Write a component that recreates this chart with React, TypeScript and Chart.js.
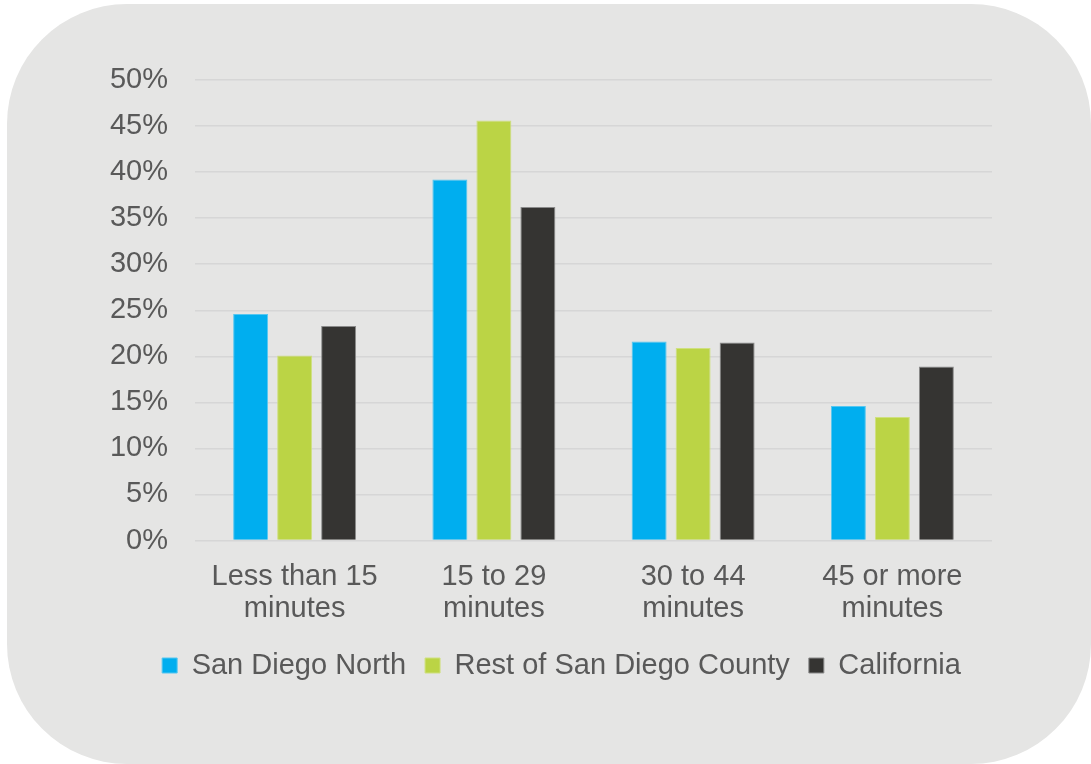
import React, { useEffect, useRef } from "react";
import { Chart, registerables } from "chart.js";

Chart.register(...registerables);

const categories: string[][] = [
  ["Less than 15", "minutes"],
  ["15 to 29", "minutes"],
  ["30 to 44", "minutes"],
  ["45 or more", "minutes"],
];
const seriesNames = ["San Diego North", "Rest of San Diego County", "California"];
const sanDiegoNorth = [24.6, 39.2, 21.6, 14.6];
const restOfCounty = [20.1, 45.6, 20.9, 13.4];
const california = [23.3, 36.2, 21.5, 18.9];
const fills = ["#00aeef", "#bbd445", "#353432"];
const borders = ["#55c6f0", "#cfe07f", "#8a8a8a"];

const FONT = "'Liberation Sans', Arial, sans-serif";
const TEXT = "#595959";

const legendShift = {
  id: "legendShift",
  afterLayout(chart: any) {
    const l = chart.legend;
    if (l) {
      l.left += 62;
      l.right += 62;
    }
  },
};

export default function App() {
  const ref = useRef<HTMLCanvasElement | null>(null);

  useEffect(() => {
    if (!ref.current) return;
    const values = [sanDiegoNorth, restOfCounty, california];
    const chart = new Chart(ref.current, {
      type: "bar",
      data: {
        labels: categories,
        datasets: values.map((v, i) => ({
          label: seriesNames[i],
          data: v,
          backgroundColor: fills[i],
          borderColor: borders[i],
          borderWidth: 1,
          categoryPercentage: 0.6625,
          barPercentage: 0.795,
        })),
      },
      plugins: [legendShift],
      options: {
        responsive: false,
        animation: false,
        layout: { padding: { left: 0, right: 99, top: 76, bottom: 74 } },
        plugins: {
          tooltip: { enabled: false },
          legend: {
            position: "bottom",
            labels: {
              color: TEXT,
              font: { family: FONT, size: 29 },
              boxWidth: 15,
              boxHeight: 15,
              padding: 19,
            },
          },
        },
        scales: {
          x: {
            afterFit: (s: any) => {
              s.height = 91.5;
            },
            grid: { display: false, drawTicks: false },
            border: { display: false },
            ticks: {
              color: TEXT,
              font: { family: FONT, size: 29, lineHeight: 1.1 },
              padding: 21,
              maxRotation: 0,
              autoSkip: false,
            },
          },
          y: {
            min: 0,
            max: 50,
            afterFit: (s: any) => {
              s.width = 188;
            },
            grid: { color: "#d6d6d6", lineWidth: 1.5, drawTicks: false },
            border: { display: false },
            ticks: {
              stepSize: 5,
              color: TEXT,
              font: { family: FONT, size: 29 },
              padding: 27,
              callback: (v: any) => v + "%",
            },
          },
        },
      },
    });
    return () => chart.destroy();
  }, []);

  return (
    <div
      style={{
        position: "absolute",
        left: 7,
        top: 4,
        width: 1084,
        height: 760,
        background: "#e5e5e4",
        borderRadius: 120,
        overflow: "hidden",
      }}
    >
      <canvas ref={ref} width={1084} height={760} style={{ display: "block" }} />
    </div>
  );
}
